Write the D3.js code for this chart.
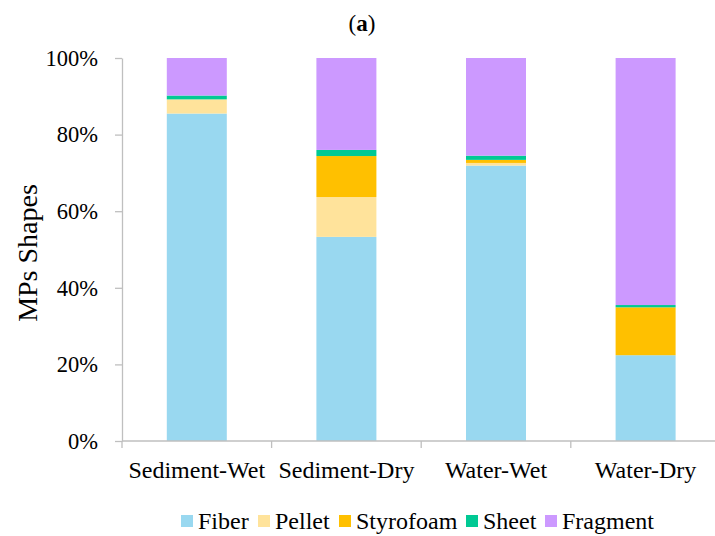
<!DOCTYPE html>
<meta charset="utf-8">
<style>
body { margin: 0; background: #fff; }
text { font-family: "Liberation Serif", "Times New Roman", Times, serif; fill: #000; }
</style>
<svg></svg>
<script src="https://d3js.org/d3.v7.min.js"></script>
<script>

// data (percent of MPs per shape)
var categories = ["Sediment-Wet", "Sediment-Dry", "Water-Wet", "Water-Dry"];
var shapes = ["Fiber", "Pellet", "Styrofoam", "Sheet", "Fragment"];
var fiber     = [85.5, 53.3, 71.9, 22.4];
var pellet    = [3.7, 10.4, 0.7, 0.0];
var styrofoam = [0.0, 10.7, 0.8, 12.5];
var sheet     = [1.0, 1.6, 1.1, 0.6];
var fragment  = [9.8, 24.0, 25.5, 64.5];
var yTicks = [0, 20, 40, 60, 80, 100];

var colors = ["#99d8f0", "#ffe39b", "#ffc000", "#00c994", "#cc99ff"];

var width = 715, height = 536;
var svg = d3.select("svg").attr("width", width).attr("height", height);

var margin = {top: 58, left: 122, bottom: 95};
var x = d3.scaleBand().domain(categories).range([margin.left, margin.left + 4 * 149.6]).paddingInner(0).paddingOuter(0);
var y = d3.scaleLinear().domain([0, 100]).range([height - margin.bottom, margin.top]);

var rows = categories.map(function(c, i) {
  return {cat: c, Fiber: fiber[i], Pellet: pellet[i], Styrofoam: styrofoam[i], Sheet: sheet[i], Fragment: fragment[i]};
});
var stack = d3.stack().keys(shapes)(rows);

var barW = 60;
svg.append("g").selectAll("g")
  .data(stack)
  .enter().append("g")
    .attr("fill", function(d, i) { return colors[i]; })
  .selectAll("rect")
  .data(function(d) { return d; })
  .enter().append("rect")
    .attr("x", function(d) { return x(d.data.cat) + x.bandwidth() / 2 - barW / 2; })
    .attr("y", function(d) { return y(d[1]); })
    .attr("width", barW)
    .attr("height", function(d) { return y(d[0]) - y(d[1]); });

// y axis
var yAxis = svg.append("g")
  .attr("transform", "translate(" + margin.left + ",0)")
  .call(d3.axisLeft(y).tickValues(yTicks).tickFormat(function(d) { return d + "%"; }).tickSize(7).tickSizeOuter(0));
yAxis.attr("font-family", null);
yAxis.select(".domain").attr("stroke", "#bfbfbf").attr("stroke-width", 1.3);
yAxis.selectAll(".tick line").attr("stroke", "#bfbfbf").attr("stroke-width", 1.3);
yAxis.selectAll(".tick text").attr("x", -24).style("font-size", "22.5px");

// x axis
var xAxis = svg.append("g")
  .attr("transform", "translate(0," + y(0) + ")")
  .call(d3.axisBottom(x).tickSize(0).tickSizeOuter(0));
xAxis.attr("font-family", null);
xAxis.select(".domain").attr("stroke", "#bfbfbf").attr("stroke-width", 1.3).attr("d", "M" + margin.left + ",0H" + width);
xAxis.selectAll(".tick text").attr("dy", 0).attr("y", 37).style("font-size", "24px");
// separators between categories
xAxis.selectAll(".sep")
  .data(categories)
  .enter().append("line")
    .attr("x1", function(d) { return x(d); })
    .attr("x2", function(d) { return x(d); })
    .attr("y1", 0).attr("y2", 7)
    .attr("stroke", "#bfbfbf").attr("stroke-width", 1.3);

// axis title
svg.append("text")
  .attr("transform", "translate(37,253) rotate(-90)")
  .attr("text-anchor", "middle")
  .style("font-size", "28px")
  .text("MPs Shapes");

// panel label
svg.append("text")
  .attr("x", 362).attr("y", 31)
  .attr("text-anchor", "middle")
  .style("font-size", "23px")
  .html("(<tspan font-weight='bold'>a</tspan>)");

// legend
var legendX = [181, 258, 339, 466, 545];
var legend = svg.append("g").selectAll("g")
  .data(shapes)
  .enter().append("g")
    .attr("transform", function(d, i) { return "translate(" + legendX[i] + ",515)"; });
legend.append("rect")
  .attr("width", 12).attr("height", 12)
  .attr("fill", function(d, i) { return colors[i]; });
legend.append("text")
  .attr("x", 17).attr("y", 14)
  .style("font-size", "24px")
  .text(function(d) { return d; });

</script>
